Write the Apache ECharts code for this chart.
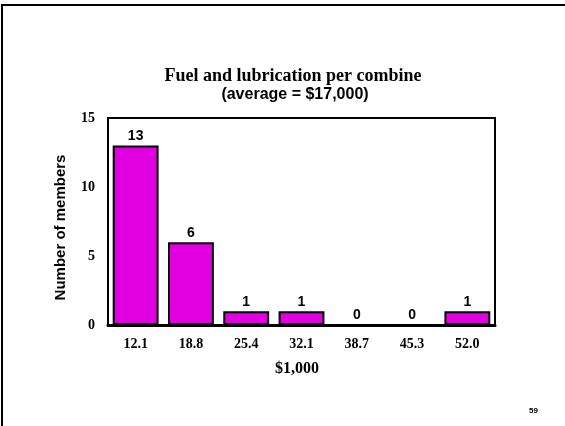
<!DOCTYPE html>
<html>
<head>
<meta charset="utf-8">
<script src="https://cdn.jsdelivr.net/npm/echarts@6/dist/echarts.min.js"></script>
<style>
  html, body { margin: 0; padding: 0; background: #fff; }
  #chart { width: 565px; height: 426px; }
</style>
</head>
<body>
<div id="chart"></div>
<script>
// 数据
var categories = ['12.1', '18.8', '25.4', '32.1', '38.7', '45.3', '52.0'];
var members = [13, 6, 1, 1, 0, 0, 1];
var yTicks = [0, 5, 10, 15];

var SERIF = '"Liberation Serif", "Times New Roman", serif';
var SANS = '"Liberation Sans", Arial, sans-serif';

var chart = echarts.init(document.getElementById('chart'));

chart.setOption({
  animation: false,
  backgroundColor: '#fff',
  graphic: [
    // 幻灯片边框（上、左）
    { type: 'line', shape: { x1: 1, y1: 5, x2: 565, y2: 5 }, style: { stroke: '#000', lineWidth: 2 } },
    { type: 'line', shape: { x1: 2, y1: 4, x2: 2, y2: 426 }, style: { stroke: '#000', lineWidth: 2 } },
    {
      type: 'text', left: 529, top: 407,
      style: { text: '59', font: 'bold 8px ' + SANS, fill: '#000' }
    }
  ],
  title: [
    {
      text: 'Fuel and lubrication per combine',
      left: 288, top: 62, textAlign: 'center',
      textStyle: { fontFamily: SERIF, fontWeight: 'bold', fontSize: 18, color: '#000' }
    },
    {
      text: '(average = $17,000)',
      left: 290, top: 82, textAlign: 'center',
      textStyle: { fontFamily: SANS, fontWeight: 'bold', fontSize: 16, color: '#000' }
    }
  ],
  grid: {
    left: 108, right: 70, top: 118, bottom: 101,
    show: true, borderColor: '#000', borderWidth: 2
  },
  xAxis: {
    type: 'category',
    data: categories,
    name: '$1,000',
    nameLocation: 'middle',
    nameGap: 36,
    nameTextStyle: { fontFamily: SERIF, fontWeight: 'bold', fontSize: 16, color: '#000', padding: [0, 9, 0, 0] },
    axisLine: { lineStyle: { color: '#000', width: 3 } },
    axisTick: { show: false },
    axisLabel: { fontFamily: SERIF, fontWeight: 'bold', fontSize: 14, color: '#000', margin: 12 }
  },
  yAxis: {
    type: 'value',
    min: 0, max: 15, interval: 5,
    name: 'Number of members',
    nameLocation: 'middle',
    nameGap: 40,
    nameTextStyle: { fontFamily: SANS, fontWeight: 'bold', fontSize: 15, color: '#000', padding: [0, 12, 0, 0] },
    axisLine: { show: false },
    axisTick: { show: false },
    splitLine: { show: false },
    axisLabel: {
      fontFamily: SERIF, fontWeight: 'bold', fontSize: 14, color: '#000', margin: 13,
      formatter: function (v) { return yTicks.indexOf(v) >= 0 ? String(v) : ''; }
    }
  },
  series: [{
    type: 'bar',
    data: members,
    barCategoryGap: '17%',
    itemStyle: { color: '#e000e0', borderColor: '#000', borderWidth: 2 },
    label: {
      show: true, position: 'top', distance: 2,
      fontFamily: SANS, fontWeight: 'bold', fontSize: 14, color: '#000'
    }
  }]
});
</script>
</body>
</html>
